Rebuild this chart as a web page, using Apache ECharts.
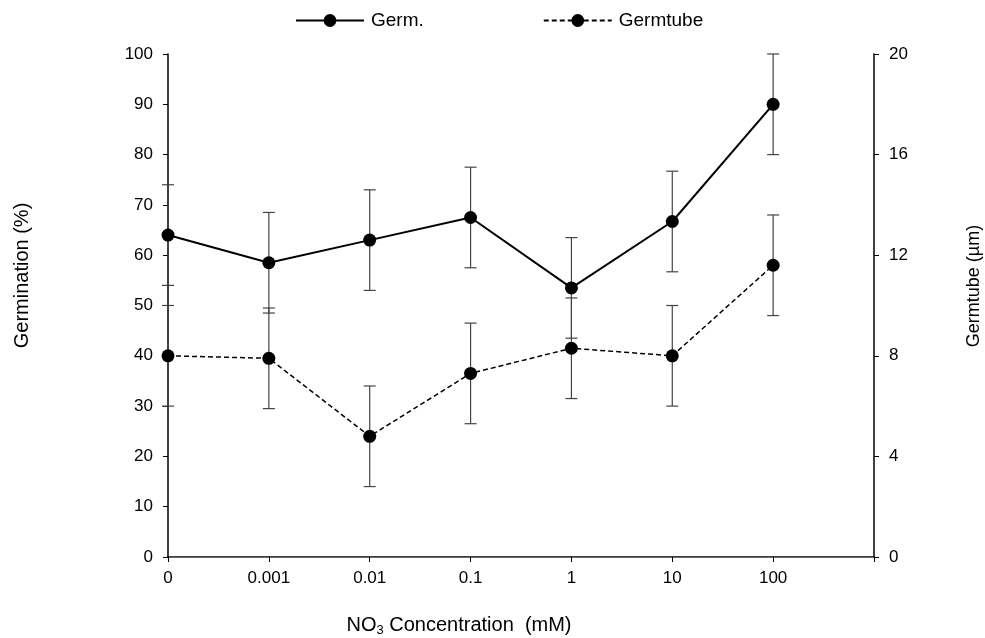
<!DOCTYPE html>
<html>
<head>
<meta charset="utf-8">
<script src="https://cdn.jsdelivr.net/npm/echarts@6/dist/echarts.min.js"></script>
<style>
html,body{margin:0;padding:0;background:#fff;}
#chart{width:985px;height:638px;}
</style>
</head>
<body>
<div id="chart"></div>
<script>
const categories = ['0', '0.001', '0.01', '0.1', '1', '10', '100', ''];
const germ = [64, 58.5, 63, 67.5, 53.5, 66.7, 90];
const germErr = [10, 10, 10, 10, 10, 10, 10];
const germtube = [8, 7.9, 4.8, 7.3, 8.3, 8, 11.6];
const germtubeErr = [2, 2, 2, 2, 2, 2, 2];
const leftTicks = { min: 0, max: 100, interval: 10 };
const rightTicks = { min: 0, max: 20, interval: 4 };

const FONT = 'Liberation Sans, Arial, sans-serif';
const chart = echarts.init(document.getElementById('chart'), null, { renderer: 'canvas' });

function errData(vals, errs) {
  return vals.map((v, i) => [i, v - errs[i], v + errs[i]]);
}
function errRender(params, api) {
  const x = api.value(0);
  const lo = api.coord([x, api.value(1)]);
  const hi = api.coord([x, api.value(2)]);
  const w = 6;
  const style = { stroke: '#444', lineWidth: 1.2 };
  return {
    type: 'group',
    children: [
      { type: 'line', shape: { x1: lo[0], y1: lo[1], x2: hi[0], y2: hi[1] }, style },
      { type: 'line', shape: { x1: lo[0] - w, y1: lo[1], x2: lo[0] + w, y2: lo[1] }, style },
      { type: 'line', shape: { x1: hi[0] - w, y1: hi[1], x2: hi[0] + w, y2: hi[1] }, style }
    ]
  };
}

const option = {
  backgroundColor: '#fff',
  animation: false,
  textStyle: { fontFamily: FONT },
  grid: { left: 168, right: 111, top: 54, bottom: 81, outerBoundsMode: 'none', containLabel: false },
  legend: {
    top: 6,
    left: 290,
    itemWidth: 68,
    itemHeight: 16,
    itemGap: 119,
    textStyle: { fontFamily: FONT, fontSize: 19, color: '#000', padding: [0, 0, 0, 2] },
    data: ['Germ.', 'Germtube']
  },
  xAxis: [{
    type: 'category',
    data: categories,
    boundaryGap: false,
    axisLine: { lineStyle: { color: '#000', width: 1.5 } },
    axisTick: { inside: false, length: 5, lineStyle: { color: '#000' } },
    axisLabel: { color: '#000', fontSize: 17, margin: 13, fontFamily: FONT },
    name: '{n|NO}{s|3}{n| Concentration  (mM)}',
    nameLocation: 'middle',
    nameGap: 57,
    nameTextStyle: {
      padding: [0, 124, 0, 0],
      rich: {
        n: { fontSize: 20, fontFamily: FONT, color: '#000' },
        s: { fontSize: 13, fontFamily: FONT, color: '#000', verticalAlign: 'bottom', padding: [10, 0, 0, 0] }
      }
    }
  }, {
    type: 'category',
    data: categories,
    boundaryGap: false,
    position: 'top',
    axisLine: { lineStyle: { color: '#666', width: 1.2 } },
    axisTick: { show: false },
    axisLabel: { show: false }
  }],
  yAxis: [{
    type: 'value',
    min: leftTicks.min, max: leftTicks.max, interval: leftTicks.interval,
    position: 'left',
    splitLine: { show: false },
    axisLine: { show: true, lineStyle: { color: '#000', width: 1.5 } },
    axisTick: { show: true, length: 5, lineStyle: { color: '#000' } },
    axisLabel: { color: '#000', fontSize: 17, margin: 15, fontFamily: FONT },
    name: 'Germination (%)',
    nameLocation: 'middle',
    nameGap: 136,
    nameTextStyle: { fontSize: 20, color: '#000', fontFamily: FONT, padding: [0, 0, 0, 60] }
  }, {
    type: 'value',
    min: rightTicks.min, max: rightTicks.max, interval: rightTicks.interval,
    position: 'right',
    splitLine: { show: false },
    axisLine: { show: true, lineStyle: { color: '#000', width: 1.5 } },
    axisTick: { show: true, length: 5, lineStyle: { color: '#000' } },
    axisLabel: { color: '#000', fontSize: 17, margin: 15, fontFamily: FONT },
    name: 'Germtube (µm)',
    nameLocation: 'middle',
    nameGap: 91,
    nameTextStyle: { fontSize: 18, color: '#000', fontFamily: FONT, padding: [0, 0, 0, 39] }
  }],
  series: [{
    type: 'custom',
    name: 'germErr',
    xAxisIndex: 0, yAxisIndex: 0,
    renderItem: errRender,
    data: errData(germ, germErr),
    z: 1,
    clip: false
  }, {
    type: 'custom',
    name: 'germtubeErr',
    xAxisIndex: 0, yAxisIndex: 1,
    renderItem: errRender,
    data: errData(germtube, germtubeErr),
    z: 1,
    clip: false
  }, {
    type: 'line',
    name: 'Germ.',
    xAxisIndex: 0, yAxisIndex: 0,
    data: germ,
    symbol: 'circle',
    symbolSize: 13,
    itemStyle: { color: '#000' },
    lineStyle: { color: '#000', width: 2 },
    z: 3
  }, {
    type: 'line',
    name: 'Germtube',
    xAxisIndex: 0, yAxisIndex: 1,
    data: germtube,
    symbol: 'circle',
    symbolSize: 13,
    itemStyle: { color: '#000' },
    lineStyle: { color: '#000', width: 1.5, type: [5, 3] },
    z: 3
  }]
};
chart.setOption(option);
</script>
</body>
</html>
